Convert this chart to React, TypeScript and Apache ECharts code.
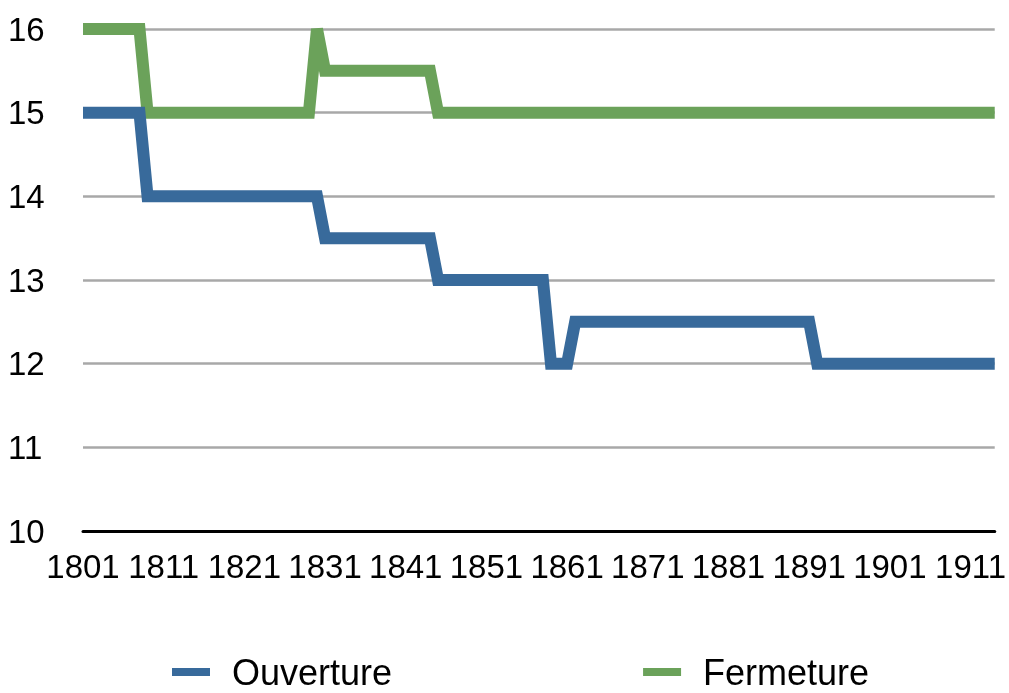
import React, { useEffect, useRef } from "react";
import * as echarts from "echarts";

const years: string[] = [];
for (let y = 1801; y <= 1914; y++) years.push(String(y));

const ouverture = [
  15, 15, 15, 15, 15, 15, 15, 15, 14, 14,
  14, 14, 14, 14, 14, 14, 14, 14, 14, 14,
  14, 14, 14, 14, 14, 14, 14, 14, 14, 14,
  13.5, 13.5, 13.5, 13.5, 13.5, 13.5, 13.5, 13.5, 13.5, 13.5,
  13.5, 13.5, 13.5, 13.5, 13, 13, 13, 13, 13, 13,
  13, 13, 13, 13, 13, 13, 13, 13, 12, 12,
  12, 12.5, 12.5, 12.5, 12.5, 12.5, 12.5, 12.5, 12.5, 12.5,
  12.5, 12.5, 12.5, 12.5, 12.5, 12.5, 12.5, 12.5, 12.5, 12.5,
  12.5, 12.5, 12.5, 12.5, 12.5, 12.5, 12.5, 12.5, 12.5, 12.5,
  12.5, 12, 12, 12, 12, 12, 12, 12, 12, 12,
  12, 12, 12, 12, 12, 12, 12, 12, 12, 12,
  12, 12, 12, 12,
];

const fermeture = [
  16, 16, 16, 16, 16, 16, 16, 16, 15, 15,
  15, 15, 15, 15, 15, 15, 15, 15, 15, 15,
  15, 15, 15, 15, 15, 15, 15, 15, 15, 16,
  15.5, 15.5, 15.5, 15.5, 15.5, 15.5, 15.5, 15.5, 15.5, 15.5,
  15.5, 15.5, 15.5, 15.5, 15, 15, 15, 15, 15, 15,
  15, 15, 15, 15, 15, 15, 15, 15, 15, 15,
  15, 15, 15, 15, 15, 15, 15, 15, 15, 15,
  15, 15, 15, 15, 15, 15, 15, 15, 15, 15,
  15, 15, 15, 15, 15, 15, 15, 15, 15, 15,
  15, 15, 15, 15, 15, 15, 15, 15, 15, 15,
  15, 15, 15, 15, 15, 15, 15, 15, 15, 15,
  15, 15, 15, 15,
];

const seriesNames = ["Ouverture", "Fermeture"];
const colors = ["#386a9b", "#6ba25a"];

export default function App() {
  const ref = useRef<HTMLDivElement>(null);
  useEffect(() => {
    if (!ref.current) return;
    const chart = echarts.init(ref.current, null, {
      renderer: "svg",
      width: 1009,
      height: 693,
    });
    const font = "'Liberation Sans', Arial, Helvetica, sans-serif";
    chart.setOption({
      animation: false,
      color: colors,
      textStyle: { fontFamily: font },
      grid: { left: 83, width: 918, top: 29, bottom: 162, containLabel: false },
      legend: {
        left: 167,
        top: 649,
        icon: "rect",
        itemWidth: 38,
        itemHeight: 8,
        itemGap: 251,
        textStyle: {
          fontSize: 36,
          lineHeight: 36,
          color: "#000",
          fontFamily: font,
          padding: [0, 0, 0, 17],
        },
        data: seriesNames,
      },
      xAxis: {
        type: "category",
        data: years,
        boundaryGap: false,
        axisLine: { show: true, lineStyle: { color: "#000", width: 3 } },
        axisTick: { show: false },
        axisLabel: {
          interval: 9,
          fontSize: 33,
          color: "#000",
          fontFamily: font,
          margin: 19,
        },
        splitLine: { show: false },
      },
      yAxis: {
        type: "value",
        min: 10,
        max: 16,
        interval: 1,
        axisLine: { show: false },
        axisTick: { show: false },
        axisLabel: {
          fontSize: 33,
          color: "#000",
          fontFamily: font,
          align: "left",
          margin: 75,
        },
        splitLine: { show: true, lineStyle: { color: "#a8a8a8", width: 2.5 } },
      },
      series: [
        {
          name: seriesNames[0],
          type: "line",
          data: ouverture,
          showSymbol: false,
          symbol: "none",
          lineStyle: { width: 12, color: colors[0], cap: "butt", join: "miter" },
          z: 3,
        },
        {
          name: seriesNames[1],
          type: "line",
          data: fermeture,
          showSymbol: false,
          symbol: "none",
          lineStyle: { width: 12, color: colors[1], cap: "butt", join: "miter" },
          z: 2,
        },
      ],
    });
    return () => chart.dispose();
  }, []);
  return (
    <div
      ref={ref}
      style={{ position: "fixed", left: 0, top: 0, width: 1009, height: 693 }}
    />
  );
}
